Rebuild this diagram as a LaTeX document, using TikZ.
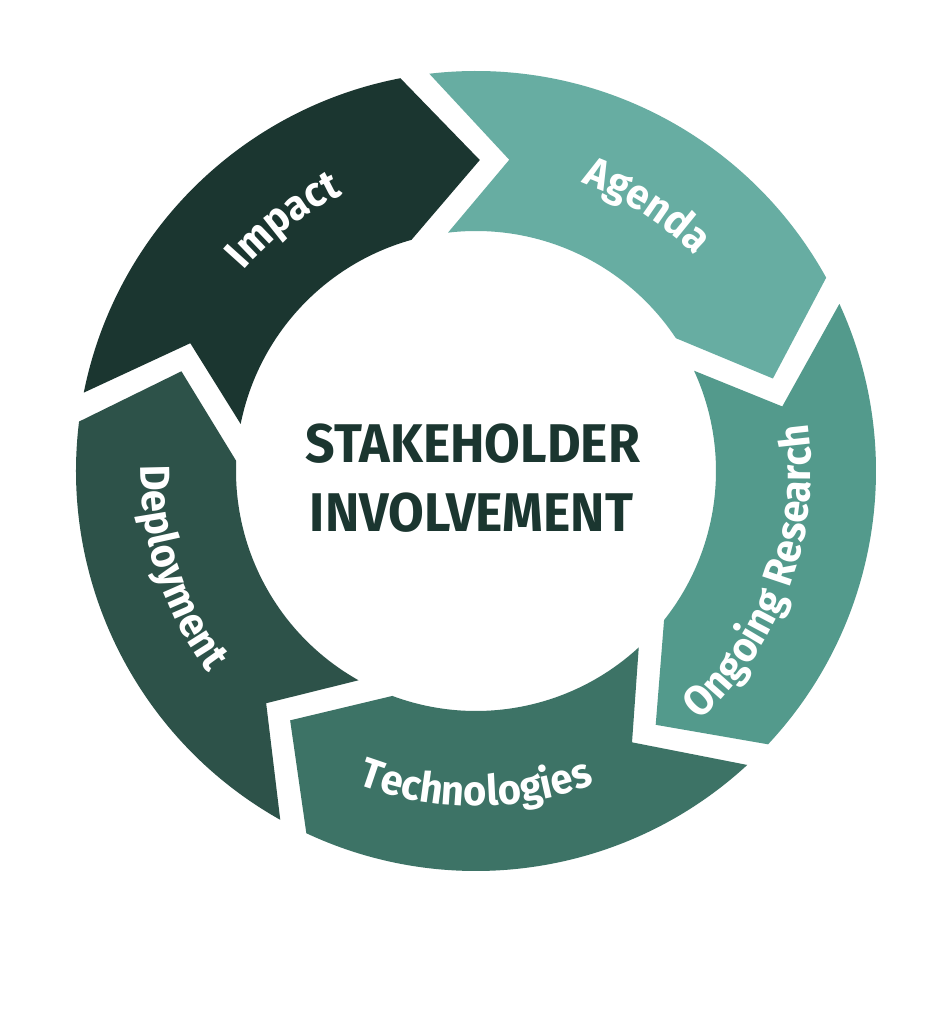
\documentclass[tikz,border=0pt]{standalone}
\usepackage{fontspec}
\setsansfont{Fira Sans}
\newfontfamily\labelfam{Fira Sans}[FakeStretch=0.95]
\newfontfamily\centerfam{Fira Sans}[FakeStretch=0.95]
\usetikzlibrary{decorations.text,calc}
\definecolor{cImpact}{HTML}{1B3630}
\definecolor{cAgenda}{HTML}{67ADA2}
\definecolor{cOngoing}{HTML}{539A8C}
\definecolor{cTech}{HTML}{3D7366}
\definecolor{cDeploy}{HTML}{2D5249}
\definecolor{cCenter}{HTML}{1B3630}
\newcommand{\labelfont}{\labelfam\bfseries\fontsize{42}{42}\selectfont}
\newcommand{\ringseg}[2]{%
  \pgfmathsetmacro\aTo{#1+7.4}%
  \pgfmathsetmacro\aHo{#1-60.4}%
  \pgfmathsetmacro\aTip{#1-72}%
  \pgfmathsetmacro\aHi{#1-55.7}%
  \pgfmathsetmacro\aN{#1-5.4}%
  \fill[#2] (\aTo:400pt) arc[start angle=\aTo, end angle=\aHo, radius=400pt]
    -- (\aTip:311pt) -- (\aHi:240pt)
    arc[start angle=\aHi, end angle=\aTo, radius=240pt]
    -- (\aN:313pt) -- cycle;
}
\tikzset{
  ringlabel/.style={decorate, decoration={text along path, text color=white,
     text align=center, text={|\labelfont|#1}}},
  centertext/.style={anchor=base, text=cCenter, inner sep=0pt,
     font=\centerfam\bfseries\fontsize{54.5}{60}\selectfont}
}
\begin{document}
\begin{tikzpicture}
\useasboundingbox[fill=white] (-476pt,-553pt) rectangle (471pt,471pt);
\ringseg{161.3}{cImpact}
\ringseg{89.3}{cAgenda}
\ringseg{17.3}{cOngoing}
\ringseg{-54.7}{cTech}
\ringseg{-126.7}{cDeploy}
% labels along the ring
\path[ringlabel=Impact] (157.4:307pt) arc[start angle=157.4, end angle=97.4, radius=307pt];
\path[ringlabel=Agenda] (87.2:307pt) arc[start angle=87.2, end angle=27.2, radius=307pt];
\path[ringlabel=Ongoing Research] (-60:335pt) arc[start angle=-60, end angle=20, radius=335pt];
\path[ringlabel=Technologies] (-130:335pt) arc[start angle=-130, end angle=-50, radius=335pt];
\path[ringlabel=Deployment] (158:335pt) arc[start angle=158, end angle=238, radius=335pt];
% centre
\node[centertext] (stake) at (-3pt,8pt) {STAKEHOLDER};
\node[centertext] (involve) at (-4.5pt,-61pt) {INVOLVEMENT};
\end{tikzpicture}
\end{document}
